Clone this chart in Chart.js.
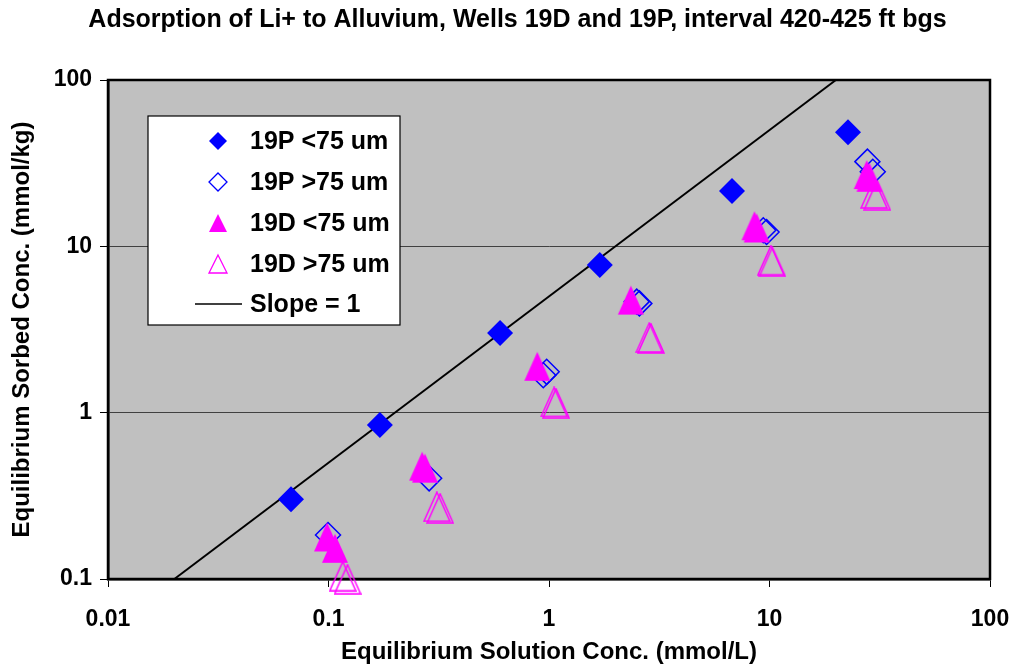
<!DOCTYPE html>
<html>
<head>
<meta charset="utf-8">
<script src="https://cdn.jsdelivr.net/npm/chart.js@4/dist/chart.umd.min.js"></script>
<style>
  html, body { margin: 0; padding: 0; background: #fff; }
  #wrap { width: 1015px; height: 664px; position: relative; }
</style>
</head>
<body>
<div id="wrap"><canvas id="grafico"></canvas></div>
<script>
// dados (mmol/L , mmol/kg)
const p19FinoX = [0.0676, 0.171, 0.600, 1.70, 6.76, 22.7];
const p19FinoY = [0.302, 0.842, 3.01, 7.72, 21.5, 48.5];

const p19GrossoX = [0.0995, 0.286, 0.942, 0.976, 2.50, 2.57, 9.37, 9.70, 27.8, 29.4];
const p19GrossoY = [0.184, 0.403, 1.68, 1.76, 4.65, 4.54, 12.5, 12.2, 32.3, 28.1];

const d19FinoX = [0.0985, 0.107, 0.266, 0.274, 0.885, 2.35, 8.55, 8.75, 27.6, 28.4];
const d19FinoY = [0.179, 0.153, 0.477, 0.464, 1.90, 4.75, 13.3, 12.9, 27.0, 26.0];

const d19GrossoX = [0.116, 0.122, 0.310, 0.321, 1.055, 1.076, 2.85, 2.90, 10.15, 10.3, 29.8, 30.8];
const d19GrossoY = [0.104, 0.0997, 0.272, 0.266, 1.16, 1.14, 2.83, 2.80, 8.25, 8.07, 20.8, 20.3];

const retaX = [0.02, 20];
const retaY = [0.1, 100];

const ticksX = [0.01, 0.1, 1, 10, 100];
const ticksY = [0.1, 1, 10, 100];

const FONTE = "'Liberation Sans', Arial, sans-serif";
const AZUL = "#0000FF";
const MAGENTA = "#FF00FF";

function pares(xs, ys) {
  return xs.map((x, i) => ({ x: x, y: ys[i] }));
}

// triângulo um pouco mais alto que largo, como no original
function triangulo(w, h, cor, cheio) {
  const c = document.createElement("canvas");
  c.width = w + 2;
  c.height = h + 2;
  const g = c.getContext("2d");
  g.beginPath();
  g.moveTo(c.width / 2, 1);
  g.lineTo(c.width - 1, c.height - 1);
  g.lineTo(1, c.height - 1);
  g.closePath();
  if (cheio) {
    g.fillStyle = cor;
    g.fill();
  } else {
    g.strokeStyle = cor;
    g.lineWidth = 1.5;
    g.stroke();
  }
  return c;
}

const triCheio = triangulo(26, 29, MAGENTA, true);
const triVazio = triangulo(26, 29, MAGENTA, false);

const fundoPlot = {
  id: "fundoPlot",
  beforeDraw(chart) {
    const a = chart.chartArea, ctx = chart.ctx;
    ctx.save();
    ctx.fillStyle = "#C0C0C0";
    ctx.fillRect(a.left, a.top, a.right - a.left, a.bottom - a.top);
    ctx.restore();
  },
  beforeDatasetsDraw(chart) {
    const a = chart.chartArea, ctx = chart.ctx;
    ctx.save();
    ctx.strokeStyle = "#000";
    ctx.lineWidth = 2.5;
    ctx.strokeRect(a.left, a.top, a.right - a.left, a.bottom - a.top);
    ctx.restore();
  }
};

const legendaCaixa = {
  id: "legendaCaixa",
  afterDraw(chart) {
    const ctx = chart.ctx;
    const bx = 148, by = 116, bw = 252, bh = 209;
    ctx.save();
    ctx.fillStyle = "#fff";
    ctx.fillRect(bx, by, bw, bh);
    ctx.strokeStyle = "#000";
    ctx.lineWidth = 1.2;
    ctx.strokeRect(bx, by, bw, bh);

    const mx = 218, tx = 250;
    const linhas = [141, 182, 223, 264, 304];
    ctx.font = "bold 25px " + FONTE;
    ctx.textBaseline = "middle";
    ctx.fillStyle = "#000";

    chart.data.datasets.forEach((ds, i) => {
      const y = linhas[i];
      ctx.beginPath();
      if (ds.pointStyle === "rectRot") {
        ctx.moveTo(mx, y - 9);
        ctx.lineTo(mx + 9, y);
        ctx.lineTo(mx, y + 9);
        ctx.lineTo(mx - 9, y);
        ctx.closePath();
        if (ds.backgroundColor !== "transparent") {
          ctx.fillStyle = ds.backgroundColor;
          ctx.fill();
        } else {
          ctx.strokeStyle = ds.borderColor;
          ctx.lineWidth = 1.3;
          ctx.stroke();
        }
      } else if (ds.showLine) {
        ctx.moveTo(mx - 23, y);
        ctx.lineTo(mx + 24, y);
        ctx.strokeStyle = "#000";
        ctx.lineWidth = 1.5;
        ctx.stroke();
      } else {
        ctx.moveTo(mx, y - 9);
        ctx.lineTo(mx + 9, y + 9);
        ctx.lineTo(mx - 9, y + 9);
        ctx.closePath();
        if (ds.pointStyle === triCheio) {
          ctx.fillStyle = MAGENTA;
          ctx.fill();
        } else {
          ctx.strokeStyle = MAGENTA;
          ctx.lineWidth = 1.3;
          ctx.stroke();
        }
      }
      ctx.fillStyle = "#000";
      ctx.fillText(ds.label, tx, y + 1);
    });
    ctx.restore();
  }
};

const ctx = document.getElementById("grafico").getContext("2d");

new Chart(ctx, {
  type: "scatter",
  data: {
    datasets: [
      {
        label: "19P <75 um",
        data: pares(p19FinoX, p19FinoY),
        pointStyle: "rectRot",
        pointRadius: 13,
        backgroundColor: AZUL,
        borderColor: AZUL,
        borderWidth: 0,
        order: 1
      },
      {
        label: "19P >75 um",
        data: pares(p19GrossoX, p19GrossoY),
        pointStyle: "rectRot",
        pointRadius: 12.5,
        backgroundColor: "transparent",
        borderColor: AZUL,
        borderWidth: 1.5,
        order: 2
      },
      {
        label: "19D <75 um",
        data: pares(d19FinoX, d19FinoY),
        pointStyle: triCheio,
        order: 0
      },
      {
        label: "19D >75 um",
        data: pares(d19GrossoX, d19GrossoY),
        pointStyle: triVazio,
        order: 3
      },
      {
        label: "Slope = 1",
        data: pares(retaX, retaY),
        showLine: true,
        pointRadius: 0,
        borderColor: "#000",
        borderWidth: 2,
        backgroundColor: "#000",
        order: 4
      }
    ]
  },
  options: {
    responsive: true,
    maintainAspectRatio: false,
    animation: false,
    clip: false,
    layout: { padding: { left: 20, right: 0, top: 0, bottom: 0 } },
    plugins: {
      legend: { display: false },
      tooltip: { enabled: false },
      title: {
        display: true,
        text: "Adsorption of Li+ to Alluvium, Wells 19D and 19P, interval 420-425 ft bgs",
        color: "#000",
        font: { family: FONTE, size: 25, weight: "bold", lineHeight: 1.2 },
        padding: { top: 5, bottom: 45 }
      }
    },
    scales: {
      x: {
        type: "logarithmic",
        min: 0.01,
        max: 100,
        afterBuildTicks: s => { s.ticks = ticksX.map(v => ({ value: v })); },
        afterFit: s => { s.height = 85; s.paddingLeft = 0; s.paddingRight = 25; },
        ticks: {
          color: "#000",
          font: { family: FONTE, size: 23, weight: "bold" },
          padding: 19,
          maxRotation: 0,
          callback: v => String(v)
        },
        grid: {
          drawOnChartArea: false,
          drawTicks: true,
          tickLength: 8,
          tickColor: "#000"
        },
        border: { color: "#000", width: 2.5 },
        title: {
          display: true,
          text: "Equilibrium Solution Conc. (mmol/L)",
          color: "#000",
          font: { family: FONTE, size: 24, weight: "bold", lineHeight: 1 },
          padding: { top: 0, bottom: 0 }
        }
      },
      y: {
        type: "logarithmic",
        min: 0.1,
        max: 100,
        afterBuildTicks: s => { s.ticks = ticksY.map(v => ({ value: v })); },
        afterFit: s => { s.width = 88; },
        ticks: {
          color: "#000",
          font: { family: FONTE, size: 23, weight: "bold" },
          padding: 8,
          callback: v => String(v)
        },
        grid: {
          color: "#404040",
          lineWidth: 1,
          drawTicks: true,
          tickLength: 8,
          tickColor: "#000"
        },
        border: { color: "#000", width: 2.5 },
        title: {
          display: true,
          text: "Equilibrium Sorbed Conc. (mmol/kg)",
          color: "#000",
          font: { family: FONTE, size: 24, weight: "bold", lineHeight: 1 },
          padding: { top: -10, bottom: 0 }
        }
      }
    }
  },
  plugins: [fundoPlot, legendaCaixa]
});
</script>
</body>
</html>
